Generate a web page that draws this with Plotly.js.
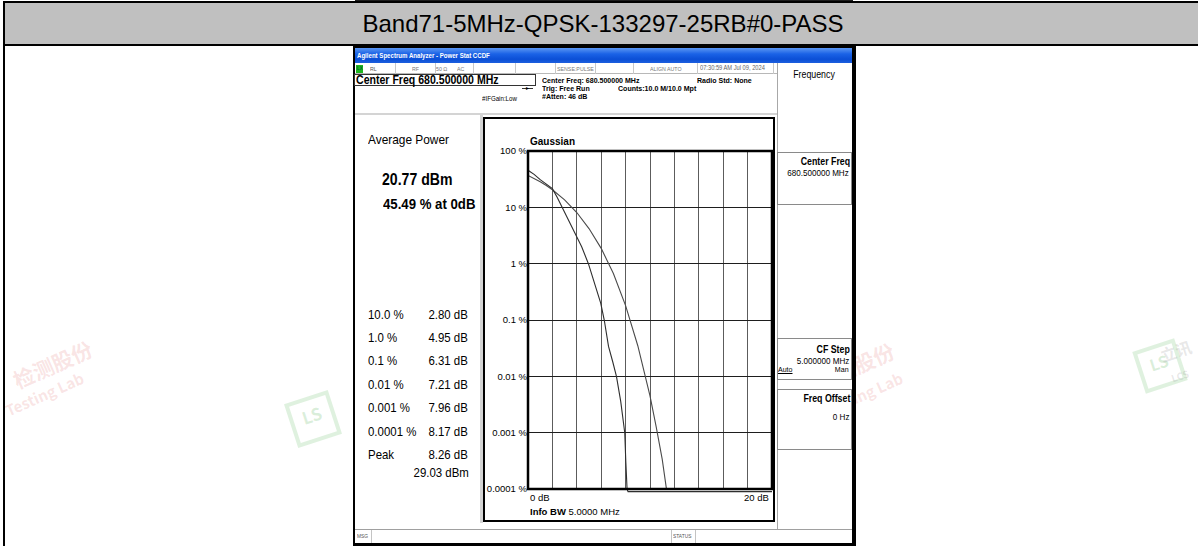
<!DOCTYPE html>
<html>
<head>
<meta charset="utf-8">
<title>Band71-5MHz-QPSK-133297-25RB#0-PASS</title>
<script src="https://cdn.plot.ly/plotly-3.0.1.min.js"></script>
<style>
  html, body { margin:0; padding:0; background:#fff; }
  body { position:relative; width:1198px; height:546px; overflow:hidden; font-family:"Liberation Sans", Arial, Helvetica, sans-serif; color:#000; }
  .a { position:absolute; box-sizing:border-box; }
  .t { position:absolute; white-space:nowrap; line-height:1; }
  .wm { position:absolute; white-space:nowrap; line-height:1; font-family:"Noto Sans CJK SC","Noto Sans",sans-serif; font-weight:bold; transform-origin:left top; }
</style>
</head>
<body>
<!-- faint background watermarks -->
<div class="wm" style="left:10px;top:372px;font-size:21px;color:rgba(225,120,120,.20);transform:rotate(-24deg);">检测股份</div>
<div class="wm" style="left:3px;top:404px;font-size:15px;color:rgba(225,120,120,.20);transform:rotate(-24deg);">Testing Lab</div>
<div class="wm" style="left:812px;top:374px;font-size:21px;color:rgba(225,120,120,.20);transform:rotate(-24deg);">检测股份</div>
<div class="wm" style="left:822px;top:404px;font-size:15px;color:rgba(225,120,120,.20);transform:rotate(-24deg);">Testing Lab</div>
<div class="wm" style="left:290px;top:396px;width:38px;height:38px;border:4px solid rgba(110,190,110,.22);font-size:17px;color:rgba(110,190,110,.25);text-align:center;line-height:30px;transform:rotate(-18deg);transform-origin:center;">LS</div>
<div class="wm" style="left:1138px;top:344px;width:36px;height:36px;border:4px solid rgba(110,190,110,.22);font-size:16px;color:rgba(110,190,110,.25);text-align:center;line-height:28px;transform:rotate(-18deg);transform-origin:center;">LS</div>
<div class="wm" style="left:1158px;top:348px;font-size:16px;color:rgba(150,150,150,.22);transform:rotate(-18deg);">立讯</div>
<div class="wm" style="left:1170px;top:374px;font-size:10px;color:rgba(150,150,150,.22);transform:rotate(-18deg);">LCS</div>

<script>
// ---------------- data ----------------
const headerTitle = 'Band71-5MHz-QPSK-133297-25RB#0-PASS';
const windowTitle = 'Agilent Spectrum Analyzer - Power Stat CCDF';
const centerFreq = '680.500000 MHz';
const avgPowerText = '20.77 dBm';
const avgAtZeroText = '45.49 % at 0dB';
const ccdfLevels = ['10.0 %', '1.0 %', '0.1 %', '0.01 %', '0.001 %', '0.0001 %', 'Peak'];
const ccdfValues = ['2.80 dB', '4.95 dB', '6.31 dB', '7.21 dB', '7.96 dB', '8.17 dB', '8.26 dB'];
const peakPowerText = '29.03 dBm';

// measured CCDF trace (dB above average, probability in %)
const measuredDb  = [0, 0.5, 1, 1.5, 2, 2.4, 2.8, 3.3, 3.8, 4.4, 4.95, 5.5, 5.96, 6.25, 6.6, 6.95, 7.25, 7.6, 7.93, 8.02, 8.12, 8.2, 20];
const measuredPct = [45.49, 38.5, 31, 26, 21.5, 15, 10, 6.1, 3.8, 2.0, 1.0, 0.42, 0.2, 0.1, 0.034, 0.018, 0.01, 0.0036, 0.001, 0.0003, 0.0001, 0.00009, 0.00009];
// Gaussian reference trace
const gaussDb  = [0, 0.5, 1, 1.5, 2, 3, 4, 5, 6, 7, 8, 9, 10, 10.5, 11, 11.35];
const gaussPct = [36.8, 32.5, 28.4, 24.4, 20.5, 13.6, 8.1, 4.2, 1.87, 0.67, 0.18, 0.035, 0.0045, 0.0013, 0.00034, 0.0001];

// axes
const xRangeDb = [0, 20];
const xGridDb = [0, 2, 4, 6, 8, 10, 12, 14, 16, 18, 20];
const xEndLabels = ['0 dB', '20 dB'];
const yTickVals = [100, 10, 1, 0.1, 0.01, 0.001, 0.0001];
const yTickText = ['100 %', '10 %', '1 %', '0.1 %', '0.01 %', '0.001 %', '0.0001 %'];
const infoBw = '5.0000 MHz';

// ---------------- helpers ----------------
function box(x, y, w, h, style) {
  const d = document.createElement('div');
  d.className = 'a';
  d.style.cssText = `left:${x}px;top:${y}px;width:${w}px;height:${h}px;` + (style || '');
  document.body.appendChild(d);
  return d;
}
function txt(str, x, yc, fs, o) {
  o = o || {};
  const d = document.createElement('div');
  d.className = 't';
  d.textContent = str;
  d.style.fontSize = fs + 'px';
  d.style.top = (yc - 0.49 * fs) + 'px';
  const sx = (o.sx == null) ? 0.88 : o.sx;
  if (o.anchor === 'right') {
    d.style.right = (1198 - x) + 'px';
    d.style.transformOrigin = 'right center';
    d.style.transform = `scaleX(${sx})`;
  } else if (o.anchor === 'center') {
    d.style.left = x + 'px';
    d.style.transform = `translateX(-50%) scaleX(${sx})`;
  } else {
    d.style.left = x + 'px';
    d.style.transformOrigin = 'left center';
    d.style.transform = `scaleX(${sx})`;
  }
  if (o.bold) d.style.fontWeight = 'bold';
  if (o.color) d.style.color = o.color;
  if (o.underline) d.style.textDecoration = 'underline';
  document.body.appendChild(d);
  return d;
}

// ---------------- table header ----------------
box(355, 0, 498, 2, 'background:#1c1c1c;');
box(3, 3, 1195, 41, 'background:#c0c0c0;');
box(3, 1, 1195, 2, 'background:#000;');
box(3, 44, 1195, 2, 'background:#000;');
box(3, 1, 2, 545, 'background:#000;');
txt(headerTitle, 603, 24, 24, {anchor: 'center', sx: 1});

// ---------------- analyzer screenshot ----------------
box(353, 46, 503, 500, 'background:#000;');
box(355, 48, 497, 495, 'background:#fff;');
box(355, 48, 497, 15, 'background:linear-gradient(#5b96f2,#1a62e6 40%,#0b4fd6 75%,#1d5fde);');
txt(windowTitle, 357, 55.5, 7, {bold: true, color: '#fff', sx: 0.87});

// status row
box(355, 63, 422, 11, 'border-bottom:1px solid #b8b8b8;background:#fff;');
[395, 435, 473, 515, 555, 595, 633, 697, 773].forEach(x => box(x, 63, 1, 11, 'background:#c8c8c8;'));
box(356, 64.5, 7, 8, 'background:#1fb51f;');
txt('LX', 356.5, 68.5, 5, {bold: true, color: '#063'});
txt('RL', 370, 68.5, 6, {color: '#555'});
txt('RF', 412, 68.5, 6, {color: '#777'});
txt('50 Ω', 436, 68.5, 6, {color: '#777'});
txt('AC', 457, 68.5, 6, {color: '#777'});
txt('SENSE:PULSE', 557, 68.5, 6, {color: '#777'});
txt('ALIGN AUTO', 650, 68.5, 6, {color: '#777'});
txt('07:30:59 AM Jul 09, 2024', 700, 68.5, 6.5, {color: '#666'});

// setup row
box(354, 74, 182, 12, 'border:1px solid #333;');
txt('Center Freq ' + centerFreq, 356, 80, 12, {bold: true});
txt('Center Freq: ' + centerFreq, 542, 81, 8, {bold: true});
txt('Radio Std: None', 697, 81, 8, {bold: true});
txt('Trig: Free Run', 542, 88.5, 8, {bold: true});
txt('Counts:10.0 M/10.0 Mpt', 618, 88.5, 8, {bold: true});
txt('#Atten: 46 dB', 542, 97, 8, {bold: true});
txt('#IFGain:Low', 482, 98.5, 7);
box(522, 88, 11, 1, 'background:#333;');
txt('▸', 525.5, 88, 6, {sx: 1});

// separators
box(355, 113, 422, 2, 'background:#d4d4d4;');
box(480, 115, 3, 408, 'background:#d4d4d4;');

// left result panel
txt('Average Power', 368, 140, 13.5);
txt(avgPowerText, 382, 180, 16, {bold: true});
txt(avgAtZeroText, 383, 203.5, 15, {bold: true});
ccdfLevels.forEach((lab, i) => {
  const yc = 314 + i * 23.4;
  txt(lab, 368, yc, 13);
  txt(ccdfValues[i], 468, yc, 13, {anchor: 'right'});
});
txt(peakPowerText, 469, 314 + 6 * 23.4 + 18, 13, {anchor: 'right'});

// chart panel
box(483, 117, 292, 405, 'border:2px solid #000;background:#fff;');

// right softkey panel
box(777, 63, 75, 466, 'border-left:1px solid #a8a8a8;background:#fff;');
txt('Frequency', 814, 74.5, 10, {anchor: 'center'});
box(777, 152, 75, 53, 'border:1px solid #8a8a8a;');
txt('Center Freq', 850, 162, 10, {bold: true, anchor: 'right'});
txt(centerFreq, 849, 173, 8.5, {anchor: 'right', sx: 0.95});
box(777, 338, 75, 42, 'border:1px solid #8a8a8a;');
txt('CF Step', 850, 350, 10, {bold: true, anchor: 'right'});
txt('5.000000 MHz', 849, 361, 8.5, {anchor: 'right', sx: 0.95});
txt('Auto', 778, 370, 8, {underline: true});
txt('Man', 849, 370, 8, {anchor: 'right'});
box(777, 389, 75, 61, 'border:1px solid #8a8a8a;');
txt('Freq Offset', 850, 398.5, 10, {bold: true, anchor: 'right'});
txt('0 Hz', 849, 417, 8.5, {anchor: 'right', sx: 0.95});

// message bar
box(355, 529, 497, 14, 'border-top:1px solid #a0a0a0;background:#fff;');
[371, 671, 695].forEach(x => box(x, 530, 1, 13, 'background:#c4c4c4;'));
txt('MSG', 357, 536.5, 5.5, {color: '#555'});
txt('STATUS', 673, 536.5, 5.5, {color: '#555'});

// ---------------- CCDF plot ----------------
const plotDiv = box(485, 119, 288, 401, '');
plotDiv.id = 'ccdf';

const yPadDec = 0.07;
const yLow = Math.log10(Math.min(...yTickVals)) - yPadDec;
const yHigh = Math.log10(Math.max(...yTickVals));
const frameBottom = yPadDec / (yHigh - yLow);

const traces = [
  {x: gaussDb, y: gaussPct, type: 'scatter', mode: 'lines', name: 'Gaussian',
   line: {color: '#4a4a4a', width: 1.1}, hoverinfo: 'skip'},
  {x: measuredDb, y: measuredPct, type: 'scatter', mode: 'lines', name: 'Measured',
   line: {color: '#2e2e2e', width: 1.1}, hoverinfo: 'skip'}
];

const layout = {
  width: 288, height: 401,
  margin: {l: 43, r: 1, t: 32, b: 27},
  paper_bgcolor: 'rgba(0,0,0,0)', plot_bgcolor: '#fff',
  showlegend: false,
  font: {family: '"Liberation Sans", Arial, sans-serif', size: 9.5, color: '#000'},
  xaxis: {range: xRangeDb, tickmode: 'array', tickvals: xGridDb, showticklabels: false, ticks: '',
          showgrid: true, gridcolor: '#5c5c5c', gridwidth: 1, zeroline: false, showline: false, fixedrange: true},
  yaxis: {type: 'log', range: [yLow, yHigh], tickmode: 'array', tickvals: yTickVals, ticktext: yTickText,
          ticks: '', showgrid: true, gridcolor: '#1e1e1e', gridwidth: 1, zeroline: false, showline: false,
          tickfont: {size: 9.5, color: '#000'}, fixedrange: true},
  shapes: [
    // hide grid below the 0.0001 % line
    {type: 'rect', xref: 'x', yref: 'y', x0: xRangeDb[0], x1: xRangeDb[1],
     y0: Math.min(...yTickVals) / 100, y1: Math.min(...yTickVals),
     fillcolor: '#fff', line: {width: 0}, layer: 'between'},
    // graticule frame
    {type: 'rect', xref: 'paper', yref: 'paper', x0: 0, x1: 1, y0: frameBottom, y1: 1,
     line: {color: '#000', width: 2.5}, fillcolor: 'rgba(0,0,0,0)', layer: 'above'}
  ],
  annotations: [
    {text: '<b>Gaussian</b>', xref: 'paper', yref: 'paper', x: 0, y: 1, xanchor: 'left', yanchor: 'bottom',
     yshift: 2, showarrow: false, font: {size: 10}},
    {text: xEndLabels[0], xref: 'paper', yref: 'paper', x: 0, y: 0, xanchor: 'left', yanchor: 'top',
     yshift: 3, showarrow: false, font: {size: 9.5}},
    {text: xEndLabels[1], xref: 'paper', yref: 'paper', x: 1, y: 0, xanchor: 'right', yanchor: 'top',
     xshift: -1, yshift: 3, showarrow: false, font: {size: 9.5}},
    {text: '<b>Info BW</b> ' + infoBw, xref: 'paper', yref: 'paper', x: 0, y: 0, xanchor: 'left', yanchor: 'top',
     yshift: -11, showarrow: false, font: {size: 9.5}}
  ]
};

Plotly.newPlot('ccdf', traces, layout, {staticPlot: true, displayModeBar: false});
</script>
</body>
</html>
